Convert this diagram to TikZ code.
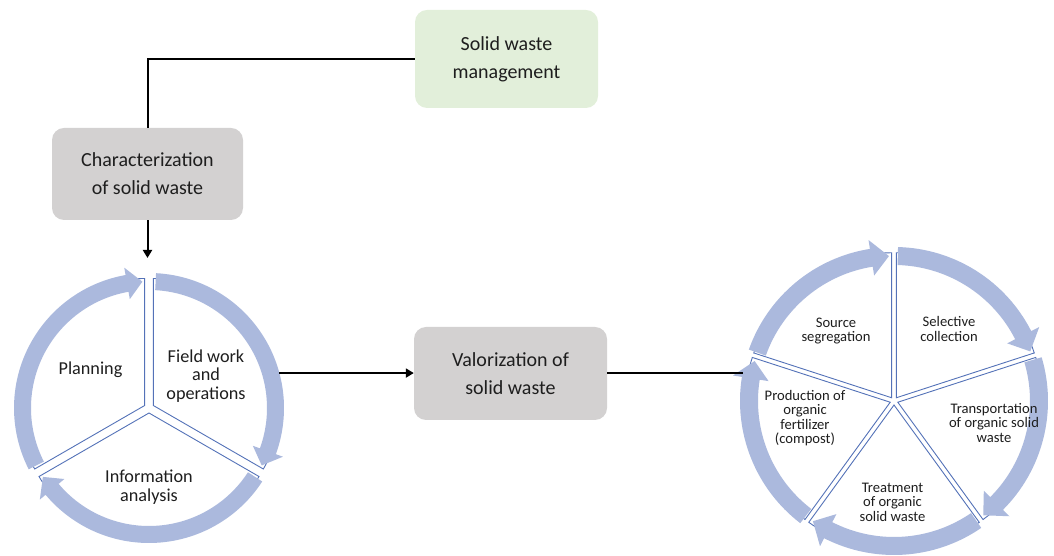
\documentclass[tikz,border=0pt]{standalone}
\usepackage{fontspec}
\setmainfont{Carlito}
\usetikzlibrary{arrows.meta,calc}
\definecolor{ringc}{HTML}{ABB9DD}
\definecolor{wedgec}{HTML}{5472B8}
\definecolor{greenbox}{HTML}{E2EFDA}
\definecolor{greybox}{HTML}{D3D1D1}
\definecolor{txt}{HTML}{1E1E1E}
% clockwise block-arc arrow: #1 start angle, #2 tip angle, #3 inner r, #4 outer r, #5 head span (deg), #6 overhang
\newcommand\ringarrow[6]{%
  \pgfmathsetmacro\hb{#2+#5}%
  \pgfmathsetmacro\rmid{(#3+#4)/2}%
  \pgfmathsetmacro\rhi{#4+#6}%
  \pgfmathsetmacro\rlo{#3-#6}%
  \fill[ringc] (#1:#4pt) arc[start angle=#1,end angle=\hb,radius=#4pt]
     -- (\hb:\rhi pt) -- (#2:\rmid pt) -- (\hb:\rlo pt) -- (\hb:#3pt)
     arc[start angle=\hb,end angle=#1,radius=#3pt] -- cycle;}
% exploded pie slice: #1 from, #2 to, #3 radius, #4 explode distance
\newcommand\pieslice[4]{%
  \pgfmathsetmacro\pmid{(#1+#2)/2}%
  \begin{scope}[shift={(\pmid:#4pt)}]
    \draw[wedgec,line width=0.9pt,fill=white] (0,0) -- (#1:#3pt)
      arc[start angle=#1,end angle=#2,radius=#3pt] -- cycle;
  \end{scope}}
\begin{document}
\begin{tikzpicture}[x=1pt,y=1pt,
  box/.style={rounded corners=12pt,align=center,inner sep=0pt,
    font=\fontsize{20}{28}\selectfont,text=txt},
  conn/.style={line width=2pt,black},
  tip/.style={-{Triangle[length=8pt,width=9pt]}},
  lbl/.style={align=center,inner sep=0pt,text=txt,font=\fontsize{18.2}{18.5}\selectfont},
  slbl/.style={align=center,inner sep=0pt,text=txt,font=\fontsize{14.6}{14.4}\selectfont}]
\useasboundingbox (0,0) rectangle (1054,556);

% boxes
\node[box,fill=greenbox,minimum width=183pt,minimum height=98pt] (swm) at (506.5,497) {Solid waste\\management};
\node[box,fill=greybox,minimum width=191pt,minimum height=92pt] (chr) at (147.5,382) {Characterization\\of solid waste};
\node[box,fill=greybox,minimum width=193pt,minimum height=93pt] (val) at (510.5,182.5) {Valorization of\\solid waste};

% left cycle
\coordinate (lc) at (149,148);
\begin{scope}[shift={(lc)}]
  \pieslice{90}{210}{127}{5}
  \pieslice{-30}{90}{127}{5}
  \pieslice{210}{330}{127}{5}
  \ringarrow{207}{93}{118}{135}{7}{7.5}
  \ringarrow{87}{-27}{118}{135}{7}{7.5}
  \ringarrow{-33}{-147}{118}{135}{7}{7.5}
\end{scope}
\node[lbl] (plan) at (90.5,186) {Planning};
\node[lbl] (field) at (206,180) {Field work\\and\\operations};
\node[lbl] (info) at (149,69) {Information\\analysis};

% right cycle
\coordinate (rc) at (894,155);
\begin{scope}[shift={(rc)}]
  \pieslice{90}{162}{145}{4}
  \pieslice{18}{90}{145}{4}
  \pieslice{-54}{18}{145}{4}
  \pieslice{-126}{-54}{145}{4}
  \pieslice{162}{234}{145}{4}
  \ringarrow{160.5}{92}{136}{154}{7}{9}
  \ringarrow{88.5}{20}{136}{154}{7}{9}
  \ringarrow{16.5}{-52}{136}{154}{7}{9}
  \ringarrow{-55.5}{-124}{136}{154}{7}{9}
  \ringarrow{-127.5}{-196}{136}{154}{7}{9}
\end{scope}
\node[slbl] (src) at (836,225) {Source\\segregation};
\node[slbl] (sel) at (949,227) {Selective\\collection};
\node[slbl] (trn) at (994,133) {Transportation\\of organic solid\\waste};
\node[slbl] (trt) at (892.5,54) {Treatment\\of organic\\solid waste};
\node[slbl] (prd) at (805,138) {Production of\\organic\\fertilizer\\(compost)};

% connectors
\draw[conn] (swm.west) -| (chr.north);
\coordinate (chrEnd) at (147.5,298);
\draw[conn,tip] (chr.south) -- (chrEnd);
\coordinate (lcE) at ($(lc)+(15:135pt)$);
\draw[conn,tip] (lcE) -- (lcE -| val.west);
\coordinate (rcW) at ($(rc)+(169.5:154pt)$);
\draw[conn] (val.east) -- (val.east -| rcW);
\end{tikzpicture}
\end{document}
